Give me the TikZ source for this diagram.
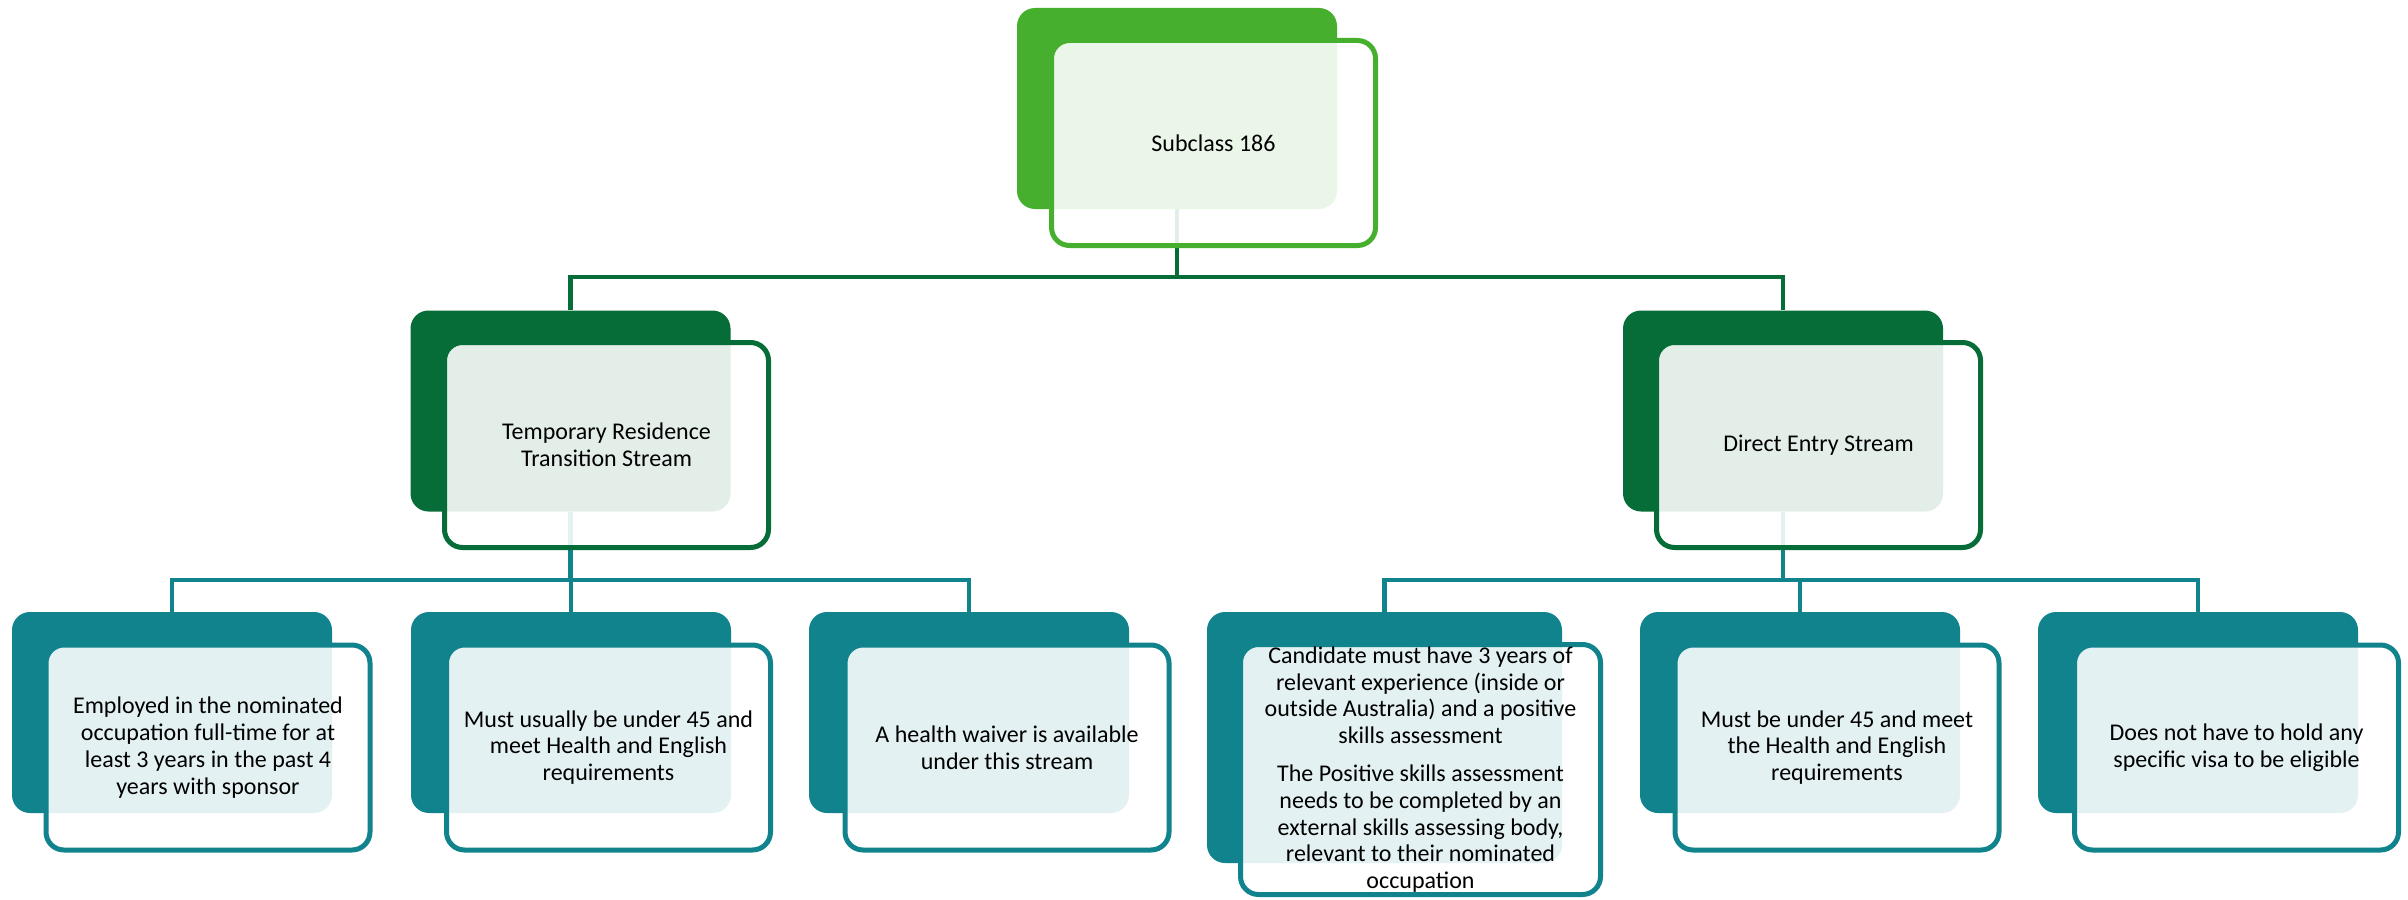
\documentclass[tikz,border=0pt]{standalone}
\usepackage{fontspec}
\setmainfont{Carlito}
\usepackage{xcolor}
\definecolor{topgreen}{RGB}{70,176,46}
\definecolor{darkgreen}{RGB}{6,108,56}
\definecolor{tealblue}{RGB}{16,131,140}
\pgfdeclarelayer{background}
\pgfsetlayers{background,main}

\begin{document}
\begin{tikzpicture}[x=0.5pt,y=-0.5pt,
  back/.style={rectangle,rounded corners=9pt,minimum width=160pt,minimum height=100.5pt,inner sep=0pt},
  front/.style={rectangle,rounded corners=9pt,minimum width=162pt,minimum height=102.5pt,line width=2.5pt,
    fill=white,fill opacity=0.89,text opacity=1,align=center,inner sep=0pt,font=\fontsize{12}{13.4}\selectfont},
  bigback/.style={back,minimum width=177.5pt,minimum height=125.5pt},
  bigfront/.style={front,minimum width=180pt,minimum height=125pt},
  link/.style={line width=2.4pt}]
\useasboundingbox (0,0) rectangle (2408,899);
\node[back,fill=topgreen] (subback) at (1177,108.5) {};
\node[front,draw=topgreen] (sub) at (1213.5,143) {Subclass 186};
\node[back,fill=darkgreen] (trtback) at (570.5,411) {};
\node[front,draw=darkgreen] (trt) at (606.5,445) {Temporary Residence\\Transition Stream};
\node[back,fill=darkgreen] (deback) at (1783,411) {};
\node[front,draw=darkgreen] (de) at (1818.5,445) {Direct Entry Stream};
\node[back,fill=tealblue] (employedback) at (172,712.5) {};
\node[front,draw=tealblue] (employed) at (208,747.5) {Employed in the nominated\\occupation full-time for at\\least 3 years in the past 4\\years with sponsor};
\node[back,fill=tealblue] (trtageback) at (571,712.5) {};
\node[front,draw=tealblue] (trtage) at (608.5,747.5) {Must usually be under 45 and\\meet Health and English\\requirements};
\node[back,fill=tealblue] (waiverback) at (969,712.5) {};
\node[front,draw=tealblue] (waiver) at (1007,747.5) {A health waiver is available\\under this stream};
\node[bigback,fill=tealblue] (skillsback) at (1384.5,737.5) {};
\node[bigfront,draw=tealblue] (skills) at (1420.5,769.5) {Candidate must have 3 years of\\relevant experience (inside or\\outside Australia) and a positive\\skills assessment\\[5.5pt]The Positive skills assessment\\needs to be completed by an\\external skills assessing body,\\relevant to their nominated\\occupation};
\node[back,fill=tealblue] (deageback) at (1800,712.5) {};
\node[front,draw=tealblue] (deage) at (1837,747.5) {Must be under 45 and meet\\the Health and English\\requirements};
\node[back,fill=tealblue] (visaback) at (2198,712.5) {};
\node[front,draw=tealblue] (visa) at (2236.5,747.5) {Does not have to hold any\\specific visa to be eligible};
\coordinate (subbar) at (1177,277);
\coordinate (trtbar) at (570.5,580);
\coordinate (debar) at (1783,580);
\begin{pgfonlayer}{background}
\draw[link,darkgreen] (subback.south) -- (subbar) -| (trtback.north);
\draw[link,darkgreen] (subbar) -| (deback.north);
\draw[link,tealblue] (trtback.south) -- (trtbar) -| (employedback.north);
\draw[link,tealblue] (trtbar) -| (trtageback.north);
\draw[link,tealblue] (trtbar) -| (waiverback.north);
\draw[link,tealblue] (deback.south) -- (debar) -| (skillsback.north);
\draw[link,tealblue] (debar) -| (deageback.north);
\draw[link,tealblue] (debar) -| (visaback.north);
\end{pgfonlayer}
\end{tikzpicture}
\end{document}
